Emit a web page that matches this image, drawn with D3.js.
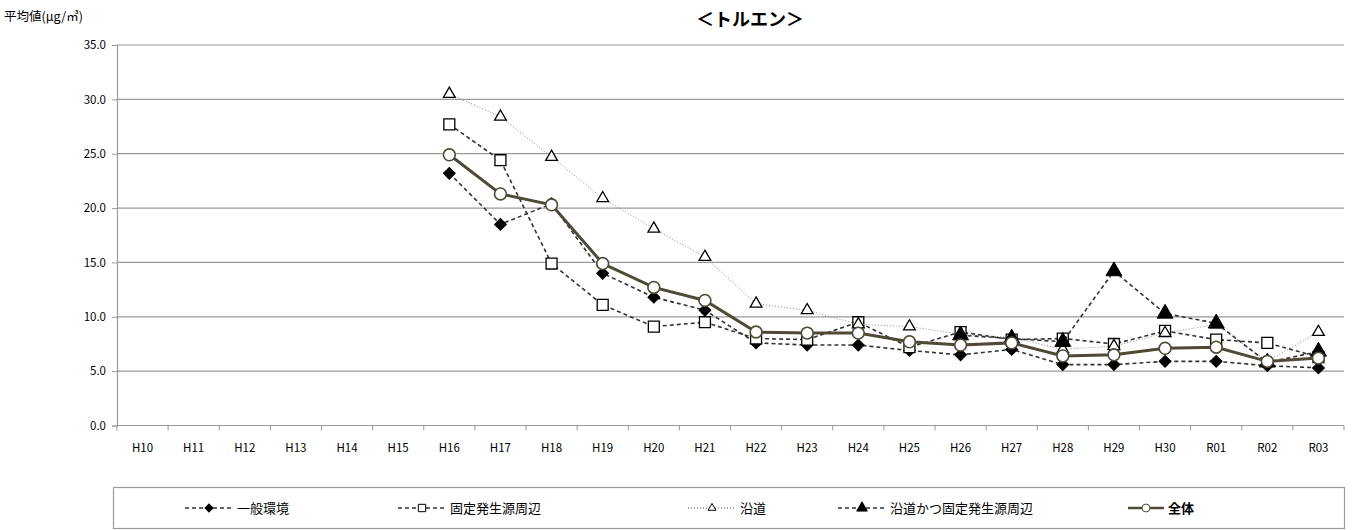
<!DOCTYPE html>
<html><head><meta charset="utf-8">
<script src="https://cdn.jsdelivr.net/npm/d3@7"></script>
<style>
body{margin:0;background:#fff;}
text{font-family:"Noto Sans CJK JP","Noto Sans",sans-serif;fill:#000;}
</style></head>
<body><svg id="c" width="1352" height="530"></svg>
<script>
const categories = ["H10","H11","H12","H13","H14","H15","H16","H17","H18","H19","H20","H21","H22","H23","H24","H25","H26","H27","H28","H29","H30","R01","R02","R03"];
const yTicks = [0,5,10,15,20,25,30,35];
const N = null;
const general   = [N,N,N,N,N,N,23.2,18.5,20.4,14.0,11.8,10.6,7.6,7.4,7.4,6.9,6.5,7.0,5.6,5.6,5.9,5.9,5.5,5.3];
const fixedSrc  = [N,N,N,N,N,N,27.7,24.4,14.9,11.1,9.1,9.5,8.0,7.9,9.5,7.2,8.6,7.9,8.0,7.5,8.7,7.9,7.6,6.3];
const roadside  = [N,N,N,N,N,N,30.5,28.4,24.7,20.9,18.1,15.5,11.2,10.6,9.3,9.1,8.4,8.1,7.0,7.3,8.5,9.3,5.9,8.6];
const roadFixed = [N,N,N,N,N,N,N,N,N,N,N,N,N,N,N,N,8.3,8.0,7.7,14.2,10.3,9.4,5.8,6.8];
const overall   = [N,N,N,N,N,N,24.9,21.3,20.3,14.9,12.7,11.5,8.6,8.5,8.5,7.7,7.4,7.6,6.4,6.5,7.1,7.2,5.9,6.2];
const seriesNames = ["一般環境","固定発生源周辺","沿道","沿道かつ固定発生源周辺","全体"];

const svg = d3.select("#c");
const L = 117, R = 1344, T = 45, B = 425.5;
const x = d3.scaleBand().domain(categories).range([L, R]);
const y = d3.scaleLinear().domain([0, 35]).range([B, T]);

// title & unit
svg.append("text").attr("x", 750).attr("y", 26).attr("text-anchor","middle")
  .attr("font-size", 18).attr("font-weight","bold").text("＜トルエン＞");
svg.append("text").attr("x", 4).attr("y", 21).attr("font-size", 12.5).text("平均値(μg/㎥)");

// grid
svg.append("g").selectAll("line").data(yTicks.filter(d=>d>0)).join("line")
  .attr("x1", L).attr("x2", R).attr("y1", d=>y(d)).attr("y2", d=>y(d))
  .attr("stroke", "#9a9a9a").attr("stroke-width", 1.2);

// y axis
const ya = svg.append("g").attr("transform", `translate(${L},0)`)
  .call(d3.axisLeft(y).tickValues(yTicks).tickFormat(d3.format(".1f")).tickSize(5).tickPadding(6));
ya.select(".domain").attr("stroke","#9a9a9a").attr("stroke-width",1.2);
ya.selectAll(".tick line").attr("stroke","#9a9a9a");
ya.selectAll("text").attr("font-size", 11.5).attr("font-family","'Liberation Sans',sans-serif");

// x axis
const xa = svg.append("g").attr("transform", `translate(0,${B})`);
xa.append("line").attr("x1", L).attr("x2", R).attr("stroke","#9a9a9a").attr("stroke-width",1.2);
xa.selectAll("line.t").data(d3.range(categories.length+1)).join("line").attr("class","t")
  .attr("x1", i=>L + i*x.step()).attr("x2", i=>L + i*x.step()).attr("y1",0).attr("y2",5)
  .attr("stroke","#9a9a9a");
xa.selectAll("text").data(categories).join("text")
  .attr("x", d=>x(d)+x.bandwidth()/2).attr("y", 26).attr("text-anchor","middle")
  .attr("font-size", 11.5).attr("font-family","'Liberation Sans',sans-serif").text(d=>d);

const cx = i => x(categories[i]) + x.bandwidth()/2;
function lineFor(arr){
  return d3.line().defined(d=>d.v!=null).x(d=>cx(d.i)).y(d=>y(d.v))(arr.map((v,i)=>({v,i})));
}
const pts = arr => arr.map((v,i)=>({v,i})).filter(d=>d.v!=null);

const symType = {diamond:d3.symbolSquare, square:d3.symbolSquare, triangle:d3.symbolTriangle, triF:d3.symbolTriangle, circle:d3.symbolCircle};
const symSize = {diamond:70, square:120, triangle:60, triF:110, circle:110};
const symRot  = {diamond:45, square:0, triangle:0, triF:0, circle:0};

const styles = [
  {data: general,   dash:"4,3", stroke:"#333", w:1.6, sym:"diamond", fill:"#000", mstroke:"#000", mw:1},
  {data: fixedSrc,  dash:"4,3", stroke:"#333", w:1.6, sym:"square",  fill:"#fff", mstroke:"#000", mw:1.3},
  {data: roadside,  dash:"1,2", stroke:"#888", w:1,   sym:"triangle",fill:"#fff", mstroke:"#000", mw:1.3},
  {data: roadFixed, dash:"4,3", stroke:"#333", w:1.6, sym:"triF",    fill:"#000", mstroke:"#000", mw:1},
  {data: overall,   dash:null,  stroke:"#4e4a37", w:3, sym:"circle", fill:"#fff", mstroke:"#4e4a37", mw:1.6}
];

styles.forEach(s=>{
  const g = svg.append("g");
  g.append("path").attr("d", lineFor(s.data)).attr("fill","none")
    .attr("stroke", s.stroke).attr("stroke-width", s.w)
    .attr("stroke-dasharray", s.dash);
  g.selectAll("path.m").data(pts(s.data)).join("path").attr("class","m")
    .attr("d", d3.symbol().type(symType[s.sym]).size(symSize[s.sym]))
    .attr("transform", d=>`translate(${cx(d.i)},${y(d.v)}) rotate(${symRot[s.sym]})`)
    .attr("fill", s.fill).attr("stroke", s.mstroke).attr("stroke-width", s.mw);
});

// legend
const lg = svg.append("g");
lg.append("rect").attr("x",113.5).attr("y",487.5).attr("width",1231).attr("height",41)
  .attr("fill","#fff").attr("stroke","#9a9a9a").attr("stroke-width",1.2);
const legX = [185, 398, 688, 838, 1128];
styles.forEach((s,k)=>{
  const g = lg.append("g").attr("transform", `translate(${legX[k]},508)`);
  const lw = k===4 ? 36 : 48;
  g.append("line").attr("x1",0).attr("x2",lw).attr("stroke", s.stroke)
    .attr("stroke-width", k===4?2.5:1.4).attr("stroke-dasharray", s.dash);
  g.append("path").attr("d", d3.symbol().type(symType[s.sym]).size(symSize[s.sym]*0.45))
    .attr("transform",`translate(${lw/2},0) rotate(${symRot[s.sym]})`)
    .attr("fill", s.fill).attr("stroke", s.mstroke).attr("stroke-width", 1);
  g.append("text").attr("x", lw+4).attr("y", 4.5).attr("font-size", 13)
    .attr("font-weight", k===4?"bold":"normal").text(seriesNames[k]);
});
</script></body></html>
